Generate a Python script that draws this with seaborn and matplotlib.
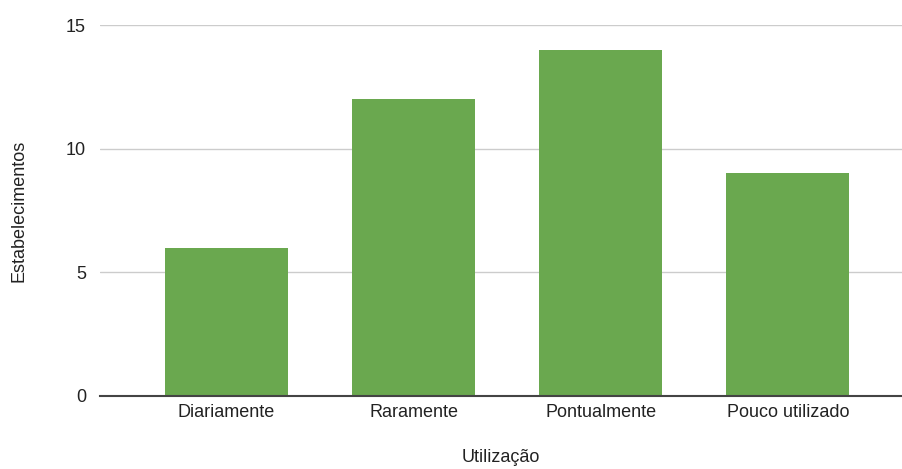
import matplotlib
matplotlib.use("Agg")
import matplotlib.pyplot as plt
import pandas as pd
import seaborn as sns

categorias = ["Diariamente", "Raramente", "Pontualmente", "Pouco utilizado"]
estabelecimentos = [6, 12, 14, 9]

df = pd.DataFrame({"Utilização": categorias, "Estabelecimentos": estabelecimentos})

sns.set_style("white")
plt.rcParams["font.family"] = ["Liberation Sans", "DejaVu Sans"]

fig = plt.figure(figsize=(9.02, 4.69), dpi=100)
ax = fig.add_axes([100 / 902, 1 - 396 / 469, 802 / 902, 371 / 469])

sns.barplot(
    data=df,
    x="Utilização",
    y="Estabelecimentos",
    color="#6aa84f",
    saturation=1,
    width=0.657,
    linewidth=0,
    ax=ax,
    zorder=3,
)

ax.set_ylim(0, 15)
ax.set_xlim(-0.675, 3.61)
ax.set_yticks([0, 5, 10, 15])
ax.yaxis.grid(True, color="#cccccc", linewidth=1, zorder=0)
ax.set_axisbelow(True)
for s in ["top", "right", "left"]:
    ax.spines[s].set_visible(False)
ax.spines["bottom"].set_color("#444444")
ax.spines["bottom"].set_linewidth(1.5)
ax.spines["bottom"].set_zorder(4)
ax.tick_params(axis="both", length=0, labelsize=13, colors="#222222")
ax.tick_params(axis="y", pad=10)
ax.tick_params(axis="x", pad=6)
ax.set_xlabel("Utilização", fontsize=13, color="#222222", labelpad=20)
ax.set_ylabel("Estabelecimentos", fontsize=13, color="#222222", labelpad=28)

fig.savefig("out.png", dpi=100)
